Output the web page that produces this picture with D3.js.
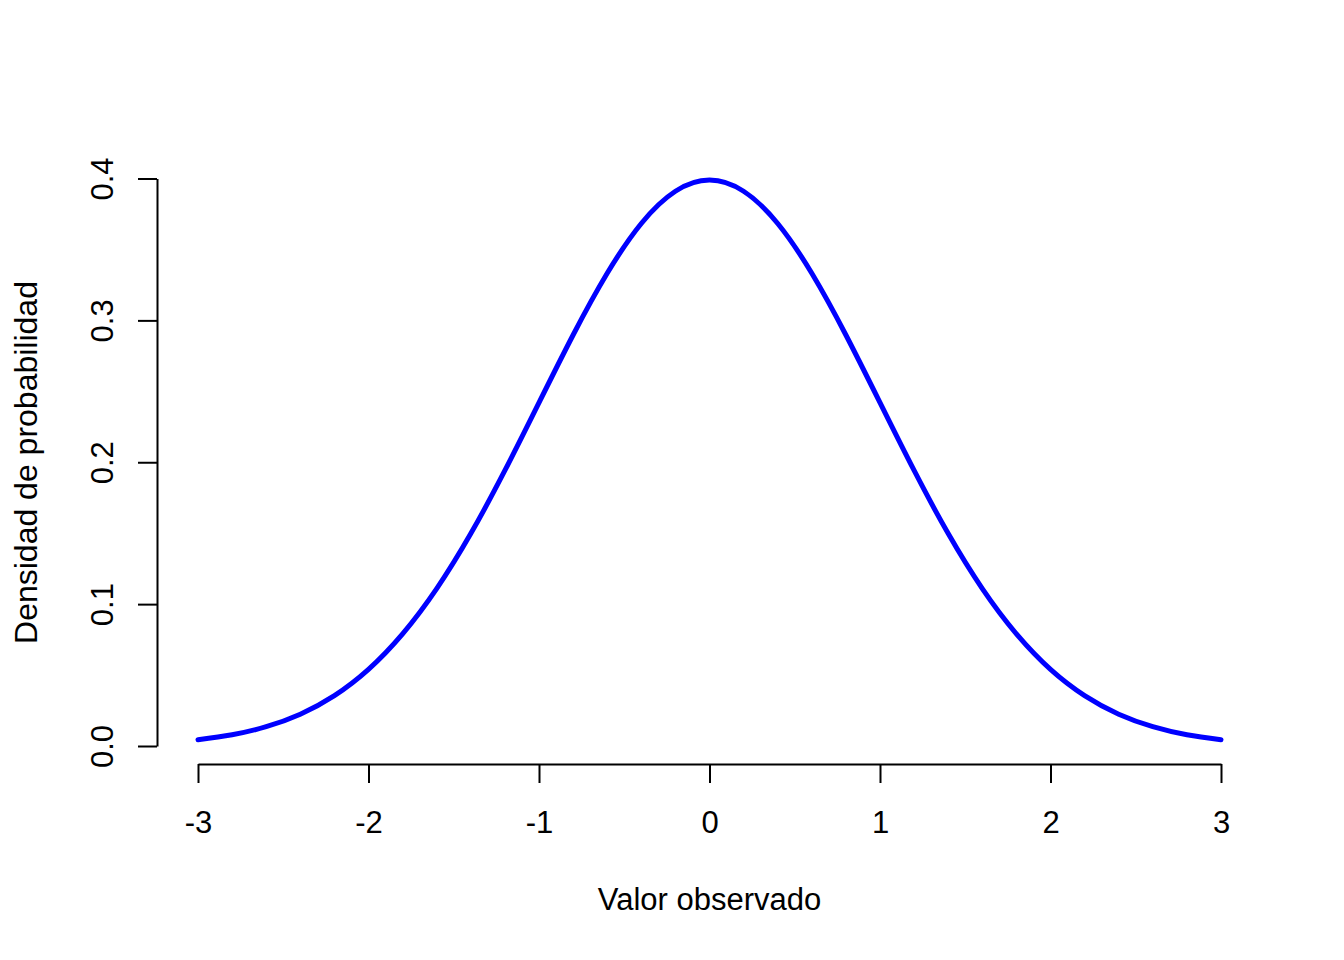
<!DOCTYPE html>
<html>
<head>
<meta charset="utf-8">
<script src="https://cdn.jsdelivr.net/npm/d3@7"></script>
<style>
  body { margin: 0; background: #fff; }
  text { font-family: "Liberation Sans", Arial, sans-serif; fill: #000; }
</style>
</head>
<body>
<div id="chart"></div>
<script>
// values
var xVals = [-3, -2.8, -2.6, -2.4, -2.2, -2, -1.8, -1.6, -1.4, -1.2, -1, -0.8, -0.6, -0.4, -0.2, 0,
             0.2, 0.4, 0.6, 0.8, 1, 1.2, 1.4, 1.6, 1.8, 2, 2.2, 2.4, 2.6, 2.8, 3];
var densVals = [0.0044, 0.0079, 0.0136, 0.0224, 0.0355, 0.0540, 0.0790, 0.1109, 0.1497, 0.1942, 0.2420,
                0.2897, 0.3332, 0.3683, 0.3910, 0.3989,
                0.3910, 0.3683, 0.3332, 0.2897, 0.2420, 0.1942, 0.1497, 0.1109, 0.0790, 0.0540,
                0.0355, 0.0224, 0.0136, 0.0079, 0.0044];
var xTicks = [-3, -2, -1, 0, 1, 2, 3];
var yTicks = [0, 0.1, 0.2, 0.3, 0.4];
var xTitle = "Valor observado";
var yTitle = "Densidad de probabilidad";

var W = 1344, H = 960;
var fs = 31;

var svg = d3.select("#chart")
    .append("svg")
    .attr("width", W)
    .attr("height", H);

svg.append("rect").attr("width", W).attr("height", H).attr("fill", "#fff");

var x = d3.scaleLinear().domain([-3, 3]).range([198, 1221]);
var y = d3.scaleLinear().domain([0, 0.4]).range([746, 178.5]);

var data = xVals.map(function(v, i) { return {x: v, y: densVals[i]}; });

// x axis
var gx = svg.append("g")
    .attr("transform", "translate(0,764)")
    .call(d3.axisBottom(x).tickValues(xTicks).tickSizeOuter(0).tickSizeInner(19)
          .tickFormat(function(d) { return d < 0 ? "-" + Math.abs(d) : d; }));
gx.select(".domain").attr("stroke", "#000").attr("stroke-width", 2);
gx.selectAll(".tick line").attr("stroke", "#000").attr("stroke-width", 2);
gx.selectAll(".tick text")
    .attr("y", 69).attr("dy", 0)
    .attr("font-size", fs)
    .attr("font-family", "Liberation Sans, Arial, sans-serif")
    .attr("fill", "#000");

// y axis
var gy = svg.append("g")
    .attr("transform", "translate(157,0)")
    .call(d3.axisLeft(y).tickValues(yTicks).tickSizeOuter(0).tickSizeInner(19)
          .tickFormat(d3.format(".1f")));
gy.select(".domain").attr("stroke", "#000").attr("stroke-width", 2);
gy.selectAll(".tick line").attr("stroke", "#000").attr("stroke-width", 2);
gy.selectAll(".tick text")
    .attr("x", 0).attr("dy", 0)
    .attr("transform", "translate(-44,0) rotate(-90)")
    .attr("text-anchor", "middle")
    .attr("font-size", fs)
    .attr("font-family", "Liberation Sans, Arial, sans-serif")
    .attr("fill", "#000");

// axis titles
svg.append("text")
    .attr("x", 709.5).attr("y", 910)
    .attr("text-anchor", "middle")
    .attr("font-size", fs)
    .text(xTitle);

svg.append("text")
    .attr("transform", "translate(37," + ((179 + 746) / 2) + ") rotate(-90)")
    .attr("text-anchor", "middle")
    .attr("font-size", 32)
    .text(yTitle);

// density curve
var line = d3.line()
    .x(function(d) { return x(d.x); })
    .y(function(d) { return y(d.y); })
    .curve(d3.curveNatural);

svg.append("path")
    .datum(data)
    .attr("fill", "none")
    .attr("stroke", "#0000ff")
    .attr("stroke-width", 5)
    .attr("stroke-linecap", "round")
    .attr("stroke-linejoin", "round")
    .attr("d", line);
</script>
</body>
</html>
